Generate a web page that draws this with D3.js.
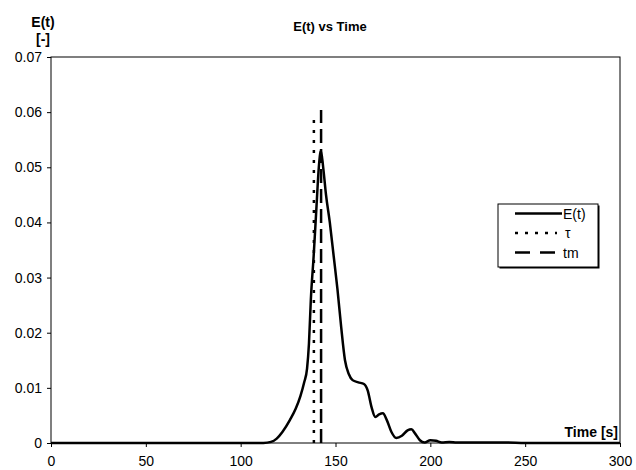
<!DOCTYPE html>
<html>
<head>
<meta charset="utf-8">
<script src="https://cdn.jsdelivr.net/npm/d3@7"></script>
<style>
  body { margin: 0; background: #fff; }
  svg { font-family: "Liberation Sans", Arial, sans-serif; }
</style>
</head>
<body>
<svg id="chart" width="636" height="470"></svg>
<script>
// E(t) curve
const times = [0, 100, 112, 116, 119, 122, 126, 129, 131.5, 133.5, 135, 136, 137, 138.5, 140, 141.2, 142.3,
  143.5, 145, 147, 149, 151, 153, 155, 157, 159, 162, 165, 167, 169, 171, 173, 175, 177, 179.5, 182,
  185, 188, 190, 192, 194.5, 197, 200, 203, 206, 210, 214, 220, 240, 250, 300];
const eValues = [0, 0, 0, 0.0002, 0.0008, 0.002, 0.0042, 0.0062, 0.0085, 0.011, 0.0135, 0.018, 0.026, 0.034, 0.043, 0.05, 0.053,
  0.05, 0.045, 0.04, 0.034, 0.028, 0.021, 0.015, 0.0125, 0.0114, 0.011, 0.0107, 0.0095, 0.0065, 0.0047, 0.0052, 0.0054, 0.0042, 0.002, 0.0009,
  0.0013, 0.0023, 0.0025, 0.0017, 0.0005, 0.0001, 0.0005, 0.0004, 0.0001, 0.0002, 0.0001, 0.0001, 0.0001, 0, 0];

// vertical marker lines: [time, top]
const tauLine = [138.6, 0.0591];
const tmLine = [142.4, 0.0604];

const xTicks = [0, 50, 100, 150, 200, 250, 300];
const yTicks = [0, 0.01, 0.02, 0.03, 0.04, 0.05, 0.06, 0.07];

const plotLeft = 51, plotRight = 620, plotTop = 57, plotBottom = 443;
const dotted = '3,7';
const dashed = '14,6';

const svg = d3.select('#chart');

const x = d3.scaleLinear().domain([0, 300]).range([plotLeft, plotRight]);
const y = d3.scaleLinear().domain([0, 0.07]).range([plotBottom, plotTop]);

// frame
svg.append('rect')
  .attr('x', plotLeft).attr('y', plotTop)
  .attr('width', plotRight - plotLeft).attr('height', plotBottom - plotTop)
  .attr('fill', 'none').attr('stroke', '#000').attr('stroke-width', 1);

// axes
const xAxis = d3.axisBottom(x).tickValues(xTicks).tickSize(4).tickPadding(9).tickFormat(d3.format('d'));
svg.append('g')
  .attr('transform', `translate(0, ${plotBottom})`)
  .call(xAxis)
  .call(g => g.select('.domain').remove())
  .call(g => g.selectAll('text').attr('font-size', 14).attr('font-family', null));

const yAxis = d3.axisLeft(y).tickValues(yTicks).tickSize(4).tickPadding(5)
  .tickFormat(d => d === 0 ? '0' : d3.format('.2f')(d));
svg.append('g')
  .attr('transform', `translate(${plotLeft}, 0)`)
  .call(yAxis)
  .call(g => g.select('.domain').remove())
  .call(g => g.selectAll('text').attr('font-size', 14).attr('font-family', null));

// title and axis labels
svg.append('text')
  .text('E(t) vs Time')
  .attr('x', 330).attr('y', 31)
  .attr('text-anchor', 'middle')
  .attr('font-weight', 'bold').attr('font-size', 13);

svg.append('text').text('E(t)')
  .attr('x', 43).attr('y', 27)
  .attr('text-anchor', 'middle')
  .attr('font-weight', 'bold').attr('font-size', 14);
svg.append('text').text('[-]')
  .attr('x', 43).attr('y', 44)
  .attr('text-anchor', 'middle')
  .attr('font-weight', 'bold').attr('font-size', 14);

svg.append('text').text('Time [s]')
  .attr('x', 618).attr('y', 437)
  .attr('text-anchor', 'end')
  .attr('font-weight', 'bold').attr('font-size', 14);

// marker lines
svg.append('line')
  .attr('x1', x(tauLine[0])).attr('x2', x(tauLine[0]))
  .attr('y1', y(0)).attr('y2', y(tauLine[1]))
  .attr('stroke', '#000').attr('stroke-width', 2.5)
  .attr('stroke-dasharray', dotted);

svg.append('line')
  .attr('x1', x(tmLine[0])).attr('x2', x(tmLine[0]))
  .attr('y1', y(0)).attr('y2', y(tmLine[1]))
  .attr('stroke', '#000').attr('stroke-width', 2.5)
  .attr('stroke-dasharray', dashed);

// E(t) curve
const points = times.map((t, i) => [t, eValues[i]]);
const line = d3.line()
  .x(d => x(d[0]))
  .y(d => y(d[1]))
  .curve(d3.curveMonotoneX);

svg.append('path')
  .datum(points)
  .attr('d', line)
  .attr('fill', 'none')
  .attr('stroke', '#000')
  .attr('stroke-width', 2.5)
  .attr('stroke-linejoin', 'round');

// legend
const legendItems = [
  { label: 'E(t)', dash: null, end: 64 },
  { label: '\u03c4', dash: dotted, end: 59 },
  { label: 'tm', dash: '15,10', end: 57 }
];
const legend = svg.append('g').attr('transform', 'translate(498, 204)');
legend.append('rect')
  .attr('x', 1.5).attr('y', 1.5)
  .attr('width', 100).attr('height', 63)
  .attr('fill', '#000');
legend.append('rect')
  .attr('width', 100).attr('height', 63)
  .attr('fill', '#fff').attr('stroke', '#000').attr('stroke-width', 1);

const items = legend.selectAll('g.item')
  .data(legendItems)
  .enter()
  .append('g')
  .attr('class', 'item')
  .attr('transform', (d, i) => `translate(0, ${9.5 + i * 19.5})`);

items.append('line')
  .attr('x1', 17).attr('x2', d => d.end)
  .attr('y1', 0).attr('y2', 0)
  .attr('stroke', '#000').attr('stroke-width', 2.5)
  .attr('stroke-dasharray', d => d.dash);

items.append('text')
  .text(d => d.label)
  .attr('x', (d, i) => i === 1 ? 67 : 65)
  .attr('y', 5)
  .attr('font-size', 14);
</script>
</body>
</html>
